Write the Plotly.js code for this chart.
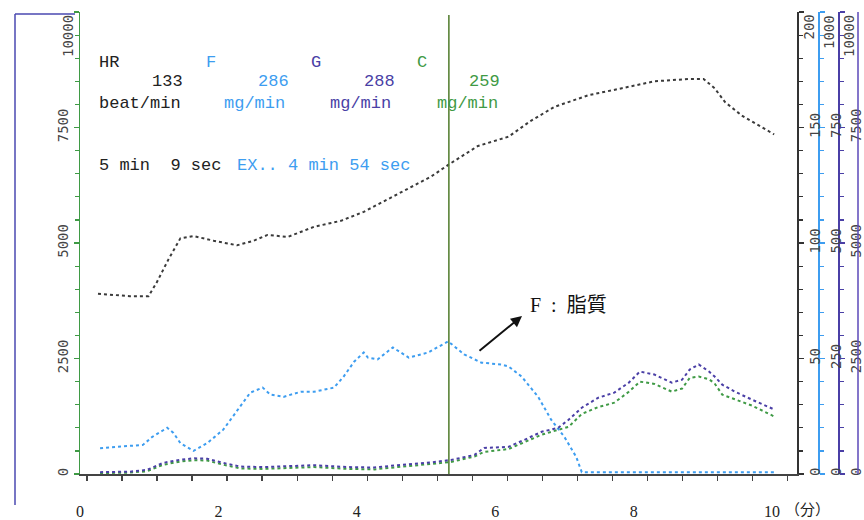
<!DOCTYPE html>
<html>
<head>
<meta charset="utf-8">
<script src="https://cdn.plot.ly/plotly-3.0.1.min.js"></script>
<style>html,body{margin:0;padding:0;background:#fff;}#chart{width:864px;height:520px;}</style>
</head>
<body>
<div id="chart"></div>
<script>
// ---- data ----
const hrTime = [0.26,0.72,0.99,1.11,1.28,1.45,1.64,1.93,2.27,2.51,2.71,3.0,3.38,3.77,4.1,4.45,4.74,5.07,5.33,5.75,6.19,6.52,6.86,7.35,7.83,8.3,8.8,9.01,9.17,9.32,9.57,9.81,10.03];
const hrValues = [78,77,77,83,93,102,103,101,99,101,103.5,102.6,107,109.6,113.5,119,123.5,128.7,134,142,146,153,159,164,167,170,171,171,167,161,155,151,147];

const fTime = [0.29,0.91,1.04,1.26,1.35,1.45,1.64,1.84,2.07,2.32,2.46,2.64,2.75,2.94,3.19,3.38,3.67,3.81,3.96,4.1,4.16,4.3,4.52,4.75,5.03,5.32,5.55,5.8,6.09,6.19,6.38,6.62,6.81,7.0,7.17,7.25,8.0,9.0,10.04];
const fValues = [56,63,80,100,89,67,50,67,96,146,176,187,172,167,178,178,187,211,243,263,252,248,274,252,263,287,259,241,237,233,211,167,117,80,37,4,4,4,4];

const gcTime = [0.29,0.72,0.97,1.2,1.45,1.65,1.84,2.07,2.32,2.65,3.0,3.38,3.87,4.25,4.59,5.07,5.36,5.7,5.84,6.19,6.42,6.67,6.91,7.06,7.25,7.49,7.72,7.93,8.09,8.3,8.55,8.7,8.81,8.94,9.09,9.17,9.28,9.46,9.71,10.04];
const gValues = [40,50,90,240,310,340,330,240,160,150,170,190,150,140,190,250,304,413,565,587,739,913,1000,1174,1435,1652,1761,1978,2217,2152,1978,2043,2261,2370,2217,2109,1935,1783,1609,1391];
const cValues = [20,30,60,200,270,300,290,200,120,110,130,150,110,100,150,210,259,380,478,540,696,850,957,1020,1300,1450,1543,1780,2000,1950,1783,1850,2080,2109,2050,1960,1717,1620,1480,1239];

const markerTime = 5.33;
const xTickVals = [0,2,4,6,8,10];
const xTickText = ['0','2','4','6','8','10'];

const mgTicks = [0,2500,5000,7500,10000];
const mgTickText = ['0','2500','5000','7500',''];
const hrTicks = [0,50,100,150,200];
const hrTickText = ['0','50','100','150',''];
const fTicks = [0,250,500,750,1000];
const fTickText = ['0','250','500','750',''];

// ---- layout helpers ----
const L = 80, R = 860, T = 12, B = 474;
const W = R - L, H = B - T;
const px = X => (X - L) / W;
const py = Y => (B - Y) / H;

const colHR = '#3a3a3a', colF = '#3d9df0', colG = '#4a3fa6', colC = '#3f9a45';
const mono = 'Liberation Mono, DejaVu Sans Mono, monospace';
const tickFont = {family: 'DejaVu Sans Mono, monospace', size: 14, color: '#444'};

const traces = [
  {x: hrTime, y: hrValues, yaxis: 'y2', mode: 'lines', line: {color: colHR, width: 2, dash: 'dot'}, hoverinfo: 'skip'},
  {x: fTime, y: fValues, yaxis: 'y3', mode: 'lines', line: {color: colF, width: 2, dash: 'dot'}, hoverinfo: 'skip'},
  {x: gcTime, y: cValues, yaxis: 'y', mode: 'lines', line: {color: colC, width: 2, dash: 'dot'}, hoverinfo: 'skip'},
  {x: gcTime, y: gValues, yaxis: 'y4', mode: 'lines', line: {color: colG, width: 2, dash: 'dot'}, hoverinfo: 'skip'}
];

const xDomain = [0, (797 - L) / W];
const xRange = [0, 10.36];

function yAx(extra) {
  return Object.assign({
    showgrid: false, zeroline: false, showline: true, linewidth: 1.5,
    ticks: 'outside', ticklen: 5, tickwidth: 1.2, tickangle: -90,
    tickmode: 'array',
    tickfont: tickFont, automargin: false, fixedrange: true
  }, extra);
}

const txt = (X, Y, text, color) => ({
  xref: 'paper', yref: 'paper', x: px(X), y: py(Y), xanchor: 'left', yanchor: 'middle',
  text: text, showarrow: false, font: {family: mono, size: 17, color: color}
});
const topLabel = (X, text) => ({
  xref: 'paper', yref: 'paper', x: px(X), y: py(13), xanchor: 'center', yanchor: 'top',
  text: text, textangle: -90, showarrow: false, font: tickFont
});

const layout = {
  width: 864, height: 520,
  margin: {l: L, r: 864 - R, t: T, b: 520 - B},
  paper_bgcolor: '#fff', plot_bgcolor: '#fff',
  showlegend: false,
  xaxis: {
    domain: xDomain, range: xRange, showgrid: false, zeroline: false,
    showline: true, linecolor: '#444', linewidth: 1.5, ticks: '',
    tickvals: xTickVals, ticktext: xTickText, ticklabelstandoff: 22,
    tickfont: {family: 'Liberation Serif, serif', size: 16, color: '#222'},
    minor: {tick0: 0.607, dtick: 0.506, ticks: 'outside', ticklen: 5, tickcolor: '#444', tickwidth: 1.2},
    automargin: false, fixedrange: true
  },
  yaxis: yAx({range: [0, 10000], tickvals: mgTicks, ticktext: mgTickText, side: 'left', anchor: 'x',
    linecolor: colC, tickcolor: colC,
    minor: {dtick: 500, ticks: 'outside', ticklen: 4, tickcolor: colC}}),
  yaxis2: yAx({range: [0, 200], tickvals: hrTicks, ticktext: hrTickText, side: 'right', anchor: 'x', overlaying: 'y',
    linecolor: '#333', tickcolor: '#333',
    minor: {dtick: 10, ticks: 'outside', ticklen: 4, tickcolor: '#333'}}),
  yaxis3: yAx({range: [0, 1000], tickvals: fTicks, ticktext: fTickText, side: 'right', anchor: 'free', overlaying: 'y',
    position: px(818), linecolor: colF, tickcolor: colF,
    minor: {dtick: 50, ticks: 'outside', ticklen: 4, tickcolor: colF}}),
  yaxis4: yAx({range: [0, 10000], tickvals: mgTicks, ticktext: mgTickText, side: 'right', anchor: 'free', overlaying: 'y',
    position: px(838), linecolor: colG, tickcolor: colG,
    minor: {dtick: 500, ticks: 'outside', ticklen: 4, tickcolor: colG}}),
  shapes: [
    {type: 'line', xref: 'x', yref: 'paper', x0: markerTime, x1: markerTime, y0: 0, y1: py(15),
      line: {color: '#4f7a2a', width: 1.5}},
    {type: 'line', xref: 'paper', yref: 'paper', x0: px(15), x1: px(15), y0: py(505), y1: py(14),
      line: {color: '#4a48b0', width: 1.5}},
    {type: 'line', xref: 'paper', yref: 'paper', x0: px(15), x1: px(75), y0: py(14), y1: py(14),
      line: {color: '#4a48b0', width: 1.5}},
    {type: 'line', xref: 'paper', yref: 'paper', x0: px(858), x1: px(858), y0: 0, y1: 1,
      line: {color: '#5b48b8', width: 1.5}}
  ],
  annotations: [
    txt(97, 62, 'HR', '#222'), txt(204, 62, 'F', colF), txt(309, 62, 'G', colG), txt(415, 62, 'C', colC),
    txt(150, 82, '133', '#222'), txt(256, 82, '286', colF), txt(362, 82, '288', colG), txt(467, 82, '259', colC),
    txt(97, 103, 'beat/min', '#222'), txt(222, 103, 'mg/min', colF), txt(328, 103, 'mg/min', colG), txt(435, 103, 'mg/min', colC),
    txt(97, 165, '5 min  9 sec', '#222'), txt(235, 165, 'EX.. 4 min 54 sec', colF),
    topLabel(68, '10000'), topLabel(809, '200'), topLabel(829, '1000'), topLabel(849, '10000'),
    {xref: 'paper', yref: 'paper', x: px(528), y: py(305), xanchor: 'left', yanchor: 'middle',
      text: 'F\u00a0\u00a0:\u00a0\u00a0脂質', showarrow: false,
      font: {family: 'Liberation Serif, Noto Sans CJK JP, serif', size: 20, color: '#111'}},
    {xref: 'paper', yref: 'paper', x: px(522), y: py(316), text: '', showarrow: true,
      axref: 'pixel', ayref: 'pixel', ax: -44, ay: 36,
      arrowhead: 2, arrowsize: 1.1, arrowwidth: 2, arrowcolor: '#111'},
    {xref: 'paper', yref: 'paper', x: px(783), y: py(509), xanchor: 'left', yanchor: 'middle',
      text: '（分）', showarrow: false,
      font: {family: 'Noto Sans CJK JP, serif', size: 15, color: '#222'}}
  ]
};

Plotly.newPlot('chart', traces, layout, {staticPlot: true, displayModeBar: false});
</script>
</body>
</html>
